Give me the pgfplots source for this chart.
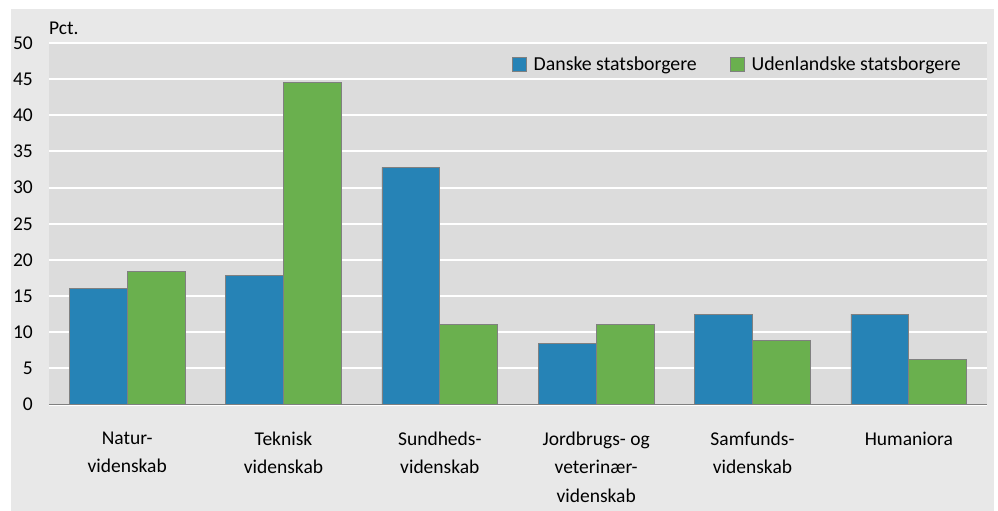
\documentclass[border=0pt]{standalone}
\usepackage{pgfplots}
\pgfplotsset{compat=1.18}
\usetikzlibrary{backgrounds}
\usepackage{fontspec}
\setmainfont{Carlito}

\definecolor{outerbg}{HTML}{E8E8E8}
\definecolor{plotbg}{HTML}{DCDCDC}
\definecolor{dkblue}{HTML}{2683B6}
\definecolor{dkgreen}{HTML}{6AB04E}
\definecolor{barline}{HTML}{808080}

\begin{document}
\fontsize{19.5}{28.5}\selectfont
\begin{tikzpicture}
\begin{axis}[
    scale only axis,
    width=938pt, height=361.5pt,
    ymin=0, ymax=50,
    xmin=-0.5, xmax=5.5,
    ytick={0,5,...,50},
    xtick={0,...,5},
    xticklabels={{Natur-\\videnskab},{Teknisk\\videnskab},{Sundheds-\\videnskab},{Jordbrugs- og\\veterinær-\\videnskab},{Samfunds-\\videnskab},{Humaniora}},
    major tick length=0pt,
    axis line style={draw=none},
    axis background/.style={fill=plotbg},
    ymajorgrids=true,
    grid style={white, line width=2pt},
    tick label style={font=\fontsize{19.5}{28.5}\selectfont},
    yticklabel style={anchor=east, inner sep=0pt, xshift=-16pt},
    xticklabel style={anchor=north, align=center, inner sep=0pt, yshift=-27pt},
    /pgf/number format/assume math mode=true,
    ybar, bar width=0.37,
    legend columns=2,
    legend style={draw=none, fill=none, at={(rel axis cs:1,1)}, anchor=north east,
        xshift=-20pt, yshift=-9pt, font=\fontsize{19.8}{23}\selectfont,
        /tikz/every even column/.append style={column sep=30pt},
        nodes={inner sep=3pt}},
    legend image code/.code={\draw[#1, line width=0.8pt] (0pt,-6pt) rectangle (14pt,8pt); \path (18pt,0pt);},
    clip=false,
]
\addplot[fill=dkblue, draw=barline, line width=0.8pt, bar shift=-0.185] coordinates {
    (0,16.0) (1,17.9) (2,32.8) (3,8.5) (4,12.4) (5,12.5)};
\addplot[fill=dkgreen, draw=barline, line width=0.8pt, bar shift=0.185] coordinates {
    (0,18.4) (1,44.6) (2,11.1) (3,11.1) (4,8.8) (5,6.2)};
\legend{Danske statsborgere, Udenlandske statsborgere}
\draw[barline, line width=1.3pt] (rel axis cs:0,0) -- (rel axis cs:1,0);
\node[anchor=base west, inner sep=0pt] at ([yshift=8pt]rel axis cs:0,1) {Pct.};
\end{axis}
\begin{scope}[on background layer]
\fill[outerbg] (-38pt,-106.5pt) rectangle (945pt,395.5pt);
\end{scope}
\path[use as bounding box] (-49pt,-106.5pt) rectangle (949pt,404.5pt);
\end{tikzpicture}
\end{document}
